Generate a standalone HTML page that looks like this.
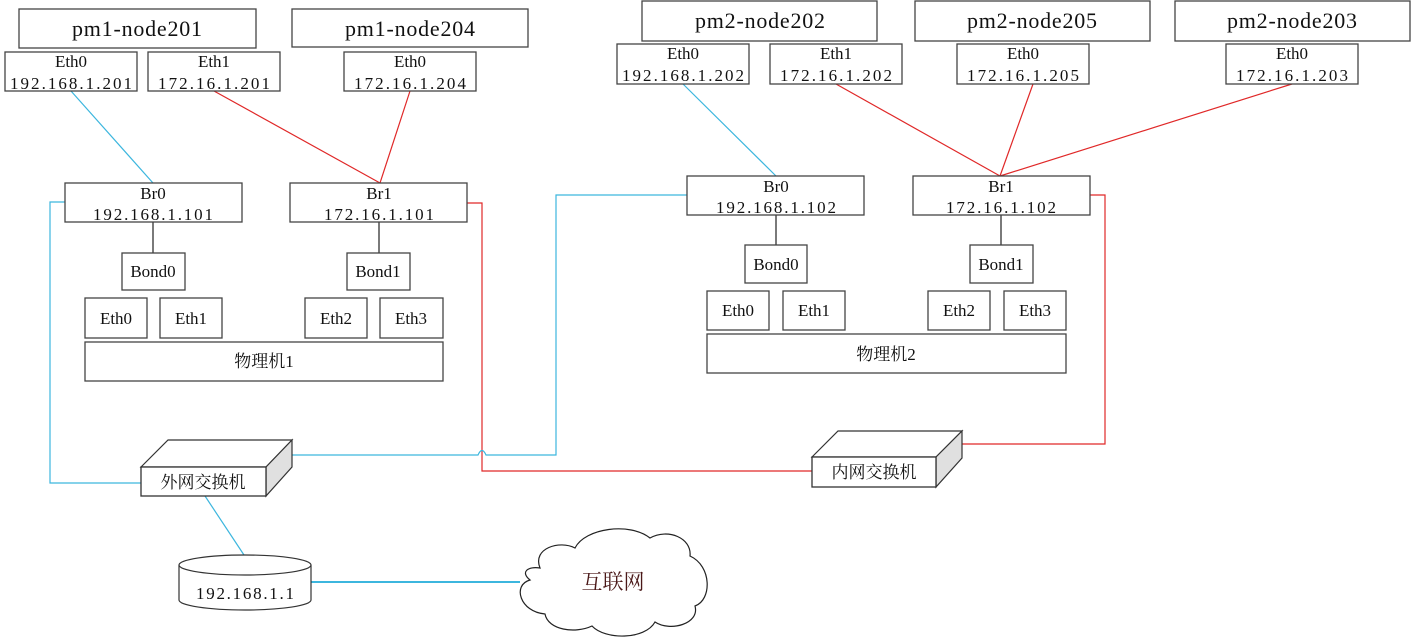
<!DOCTYPE html>
<html><head><meta charset="utf-8"><style>
html,body{margin:0;padding:0;background:#fff;}
svg{display:block;}
text{font-family:"Liberation Serif","Noto Serif CJK SC",serif;fill:#111;}
.b{fill:#fff;stroke:#444;stroke-width:1.3;}
</style></head><body>
<svg width="1412" height="637" viewBox="0 0 1412 637" xmlns="http://www.w3.org/2000/svg">
<g fill="none" stroke-width="1.2">
<line x1="71" y1="91" x2="153" y2="183" stroke="#3cb6de"/>
<line x1="214" y1="91" x2="380" y2="183" stroke="#e02828"/>
<line x1="410" y1="91" x2="380" y2="183" stroke="#e02828"/>
<line x1="153" y1="222" x2="153" y2="253" stroke="#222"/>
<line x1="379" y1="222" x2="379" y2="253" stroke="#222"/>
<polyline points="65,202 50,202 50,483 141,483" stroke="#3cb6de"/>
<polyline points="467,203 482,203 482,471 812,471" stroke="#e02828"/>
<path d="M292,455 L478,455 Q482,446 486,455 L556,455 L556,195 L687,195" stroke="#3cb6de"/>
<line x1="683" y1="84" x2="776" y2="176" stroke="#3cb6de"/>
<line x1="836" y1="84" x2="1000" y2="176" stroke="#e02828"/>
<line x1="1033" y1="84" x2="1000" y2="176" stroke="#e02828"/>
<line x1="1292" y1="84" x2="1000" y2="176" stroke="#e02828"/>
<line x1="776" y1="215" x2="776" y2="245" stroke="#222"/>
<line x1="1001" y1="215" x2="1001" y2="245" stroke="#222"/>
<polyline points="1090,195 1105,195 1105,444 962,444" stroke="#e02828"/>
<line x1="205" y1="496" x2="244" y2="555" stroke="#3cb6de"/>
<line x1="311" y1="582" x2="520" y2="582" stroke="#3cb6de" stroke-width="2"/>
</g>

<rect class="b" x="19" y="9" width="237" height="39"/><text x="137" y="36" font-size="22" text-anchor="middle" textLength="130">pm1-node201</text>
<rect class="b" x="292" y="9" width="236" height="38"/><text x="410" y="36" font-size="22" text-anchor="middle" textLength="130">pm1-node204</text>

<rect class="b" x="5" y="52" width="132" height="39"/><text x="71" y="67" font-size="17" text-anchor="middle">Eth0</text><text x="71" y="89" font-size="17" text-anchor="middle" textLength="122">192.168.1.201</text>
<rect class="b" x="148" y="52" width="132" height="39"/><text x="214" y="67" font-size="17" text-anchor="middle">Eth1</text><text x="214" y="89" font-size="17" text-anchor="middle" textLength="112">172.16.1.201</text>
<rect class="b" x="344" y="52" width="132" height="39"/><text x="410" y="67" font-size="17" text-anchor="middle">Eth0</text><text x="410" y="89" font-size="17" text-anchor="middle" textLength="112">172.16.1.204</text>

<rect class="b" x="65" y="183" width="177" height="39"/><text x="153" y="199" font-size="17" text-anchor="middle">Br0</text><text x="153" y="220" font-size="17" text-anchor="middle" textLength="120">192.168.1.101</text>
<rect class="b" x="290" y="183" width="177" height="39"/><text x="379" y="199" font-size="17" text-anchor="middle">Br1</text><text x="379" y="220" font-size="17" text-anchor="middle" textLength="110">172.16.1.101</text>

<rect class="b" x="122" y="253" width="63" height="37"/><text x="153" y="277" font-size="17" text-anchor="middle">Bond0</text>
<rect class="b" x="347" y="253" width="63" height="37"/><text x="378" y="277" font-size="17" text-anchor="middle">Bond1</text>
<rect class="b" x="85" y="298" width="62" height="40"/><text x="116" y="324" font-size="17" text-anchor="middle">Eth0</text>
<rect class="b" x="160" y="298" width="62" height="40"/><text x="191" y="324" font-size="17" text-anchor="middle">Eth1</text>
<rect class="b" x="305" y="298" width="62" height="40"/><text x="336" y="324" font-size="17" text-anchor="middle">Eth2</text>
<rect class="b" x="380" y="298" width="63" height="40"/><text x="411" y="324" font-size="17" text-anchor="middle">Eth3</text>
<rect class="b" x="85" y="342" width="358" height="39"/><text x="264" y="367" font-size="17" text-anchor="middle">物理机1</text>

<rect class="b" x="642" y="1" width="235" height="40"/><text x="760" y="28" font-size="22" text-anchor="middle" textLength="130">pm2-node202</text>
<rect class="b" x="915" y="1" width="235" height="40"/><text x="1032" y="28" font-size="22" text-anchor="middle" textLength="130">pm2-node205</text>
<rect class="b" x="1175" y="1" width="235" height="40"/><text x="1292" y="28" font-size="22" text-anchor="middle" textLength="130">pm2-node203</text>

<rect class="b" x="617" y="44" width="132" height="40"/><text x="683" y="59" font-size="17" text-anchor="middle">Eth0</text><text x="683" y="81" font-size="17" text-anchor="middle" textLength="122">192.168.1.202</text>
<rect class="b" x="770" y="44" width="132" height="40"/><text x="836" y="59" font-size="17" text-anchor="middle">Eth1</text><text x="836" y="81" font-size="17" text-anchor="middle" textLength="112">172.16.1.202</text>
<rect class="b" x="957" y="44" width="132" height="40"/><text x="1023" y="59" font-size="17" text-anchor="middle">Eth0</text><text x="1023" y="81" font-size="17" text-anchor="middle" textLength="112">172.16.1.205</text>
<rect class="b" x="1226" y="44" width="132" height="40"/><text x="1292" y="59" font-size="17" text-anchor="middle">Eth0</text><text x="1292" y="81" font-size="17" text-anchor="middle" textLength="112">172.16.1.203</text>

<rect class="b" x="687" y="176" width="177" height="39"/><text x="776" y="192" font-size="17" text-anchor="middle">Br0</text><text x="776" y="213" font-size="17" text-anchor="middle" textLength="120">192.168.1.102</text>
<rect class="b" x="913" y="176" width="177" height="39"/><text x="1001" y="192" font-size="17" text-anchor="middle">Br1</text><text x="1001" y="213" font-size="17" text-anchor="middle" textLength="110">172.16.1.102</text>

<rect class="b" x="745" y="245" width="62" height="38"/><text x="776" y="270" font-size="17" text-anchor="middle">Bond0</text>
<rect class="b" x="970" y="245" width="63" height="38"/><text x="1001" y="270" font-size="17" text-anchor="middle">Bond1</text>
<rect class="b" x="707" y="291" width="62" height="39"/><text x="738" y="316" font-size="17" text-anchor="middle">Eth0</text>
<rect class="b" x="783" y="291" width="62" height="39"/><text x="814" y="316" font-size="17" text-anchor="middle">Eth1</text>
<rect class="b" x="928" y="291" width="62" height="39"/><text x="959" y="316" font-size="17" text-anchor="middle">Eth2</text>
<rect class="b" x="1004" y="291" width="62" height="39"/><text x="1035" y="316" font-size="17" text-anchor="middle">Eth3</text>
<rect class="b" x="707" y="334" width="359" height="39"/><text x="886" y="360" font-size="17" text-anchor="middle">物理机2</text>

<polygon points="141,467 168,440 292,440 266,467" fill="#fff" stroke="#333" stroke-width="1.2"/>
<polygon points="266,467 292,440 292,467 266,496" fill="#e0e0e0" stroke="#333" stroke-width="1.2"/>
<rect x="141" y="467" width="125" height="29" fill="#fff" stroke="#333" stroke-width="1.3"/>
<text x="203" y="488" font-size="17" text-anchor="middle">外网交换机</text>

<polygon points="812,457 838,431 962,431 936,457" fill="#fff" stroke="#333" stroke-width="1.2"/>
<polygon points="936,457 962,431 962,458 936,487" fill="#e0e0e0" stroke="#333" stroke-width="1.2"/>
<rect x="812" y="457" width="124" height="30" fill="#fff" stroke="#333" stroke-width="1.3"/>
<text x="874" y="478" font-size="17" text-anchor="middle">内网交换机</text>

<path d="M179,565 L179,600 A66,10 0 0 0 311,600 L311,565" fill="#fff" stroke="#333" stroke-width="1.2"/>
<ellipse cx="245" cy="565" rx="66" ry="10" fill="#fff" stroke="#333" stroke-width="1.2"/>
<text x="245" y="599" font-size="17" text-anchor="middle" textLength="98">192.168.1.1</text>

<path d="M540,568 C532,548 560,540 575,548 C585,528 630,522 650,538 C668,528 692,538 690,556 C712,566 712,600 695,606 C700,624 670,632 655,622 C645,640 605,640 592,626 C575,634 548,630 545,614 C520,612 512,585 530,580 C520,572 528,566 540,568 Z" fill="#fff" stroke="#222" stroke-width="1.2"/>
<text x="613" y="589" font-size="21" text-anchor="middle" style="fill:#4a1818">互联网</text>
</svg>
</body></html>
